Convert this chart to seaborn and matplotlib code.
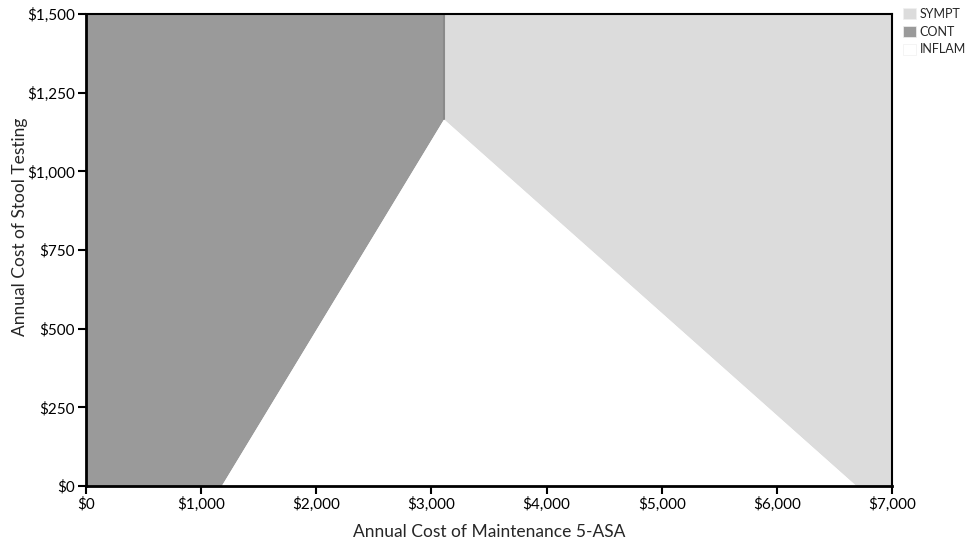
import matplotlib
matplotlib.use("Agg")
import matplotlib.pyplot as plt
import matplotlib.patches as mpatches
import seaborn as sns
from matplotlib.ticker import FuncFormatter

# Boundary vertices of each preferred-strategy region (5-ASA cost, stool test cost)
cont_x = [0, 1180, 3110, 3110, 0]
cont_y = [0, 0, 1165, 1500, 1500]
sympt_x = [3110, 3110, 6690, 7000, 7000]
sympt_y = [1500, 1165, 0, 0, 1500]
inflam_x = [1180, 3110, 6690]
inflam_y = [0, 1165, 0]

labels = ["SYMPT", "CONT", "INFLAM"]
colors = ["#dcdcdc", "#9a9a9a", "#ffffff"]

x_ticks = [0, 1000, 2000, 3000, 4000, 5000, 6000, 7000]
y_ticks = [0, 250, 500, 750, 1000, 1250, 1500]

sns.set_style("ticks")
plt.rcParams["font.family"] = ["Lato", "DejaVu Sans"]

fig = plt.figure(figsize=(9.68, 5.42), dpi=100)
ax = fig.add_axes([0.0888, 0.1033, 0.8327, 0.8707])

ax.fill(sympt_x, sympt_y, color=colors[0], lw=0)
ax.fill(cont_x, cont_y, color=colors[1], lw=0)
ax.fill(inflam_x, inflam_y, color=colors[2], lw=0)
ax.plot([cont_x[2], cont_x[3]], [cont_y[2], cont_y[3]], color="#8a8a8a", lw=1.5)

ax.set_xlim(0, 7000)
ax.set_ylim(0, 1500)
ax.set_xticks(x_ticks)
ax.set_yticks(y_ticks)
money = FuncFormatter(lambda v, p: "${:,.0f}".format(v))
ax.xaxis.set_major_formatter(money)
ax.yaxis.set_major_formatter(money)
ax.tick_params(direction="out", length=6, width=1.5, labelsize=11, colors="black", pad=2)

for s in ax.spines.values():
    s.set_visible(True)
    s.set_color("black")
ax.spines["left"].set_linewidth(2)
ax.spines["bottom"].set_linewidth(2)
ax.spines["top"].set_linewidth(1.5)
ax.spines["right"].set_linewidth(1.5)

ax.set_xlabel("Annual Cost of Maintenance 5-ASA", fontsize=12.5)
ax.set_ylabel("Annual Cost of Stool Testing", fontsize=12.5)
ax.xaxis.set_label_coords(0.5, -0.08)
ax.yaxis.set_label_coords(-0.072, 0.55)

handles = [mpatches.Patch(facecolor=c, edgecolor="#f0f0f0", lw=0.5, label=l)
           for c, l in zip(colors, labels)]
fig.legend(handles=handles, loc="upper left", bbox_to_anchor=(0.933, 0.985),
           frameon=False, fontsize=9, handlelength=1.0, handleheight=1.0,
           handletextpad=0.3, labelspacing=0.45, borderaxespad=0, borderpad=0)

fig.savefig("out.png", dpi=100)
